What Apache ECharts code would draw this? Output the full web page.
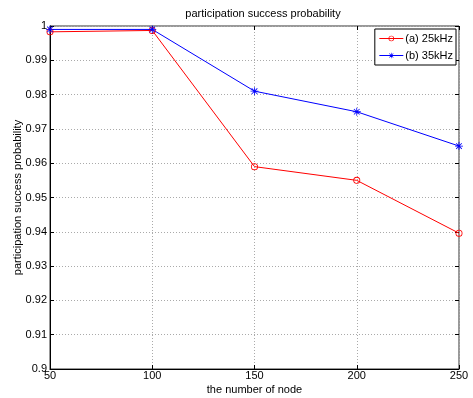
<!DOCTYPE html>
<html>
<head>
<meta charset="utf-8">
<script src="https://cdn.jsdelivr.net/npm/echarts@6/dist/echarts.min.js"></script>
<style>
  html, body { margin: 0; padding: 0; background: #fff; }
  #chart { width: 473px; height: 398px; }
</style>
</head>
<body>
<div id="chart"></div>
<script>
// data
const nodes = [50, 100, 150, 200, 250];
const khz25 = [0.9983, 0.9987, 0.959, 0.955, 0.9396];
const khz35 = [0.999, 0.999, 0.981, 0.975, 0.965];
const seriesNames = ['(a) 25kHz', '(b) 35kHz'];

const FONT = 'Liberation Sans, Arial, sans-serif';
// matlab-like markers: thin ring and asterisk
const ring = 'path://M0,-1A1,1 0 1,1 0,1A1,1 0 1,1 0,-1Z M0,-0.76A0.76,0.76 0 1,0 0,0.76A0.76,0.76 0 1,0 0,-0.76Z';
const star = 'path://M-0.1,-1L0.1,-1L0.1,1L-0.1,1Z M-1,-0.1L1,-0.1L1,0.1L-1,0.1Z ' +
  'M-0.778,-0.636L-0.636,-0.778L0.778,0.636L0.636,0.778Z M0.636,-0.778L0.778,-0.636L-0.636,0.778L-0.778,0.636Z';

const chart = echarts.init(document.getElementById('chart'));

function pairs(vals) {
  return nodes.map((n, i) => [n, vals[i]]);
}

const tickStyle = { show: true, inside: true, length: 4, lineStyle: { color: '#000' } };

chart.setOption({
  animation: false,
  backgroundColor: '#fff',
  textStyle: { fontFamily: FONT },
  title: {
    text: 'participation success probability',
    left: 258,
    top: 3,
    textAlign: 'center',
    textStyle: { fontSize: 11, fontWeight: 'normal', color: '#000', fontFamily: FONT }
  },
  legend: {
    right: 17,
    top: 29,
    orient: 'vertical',
    backgroundColor: '#fff',
    borderColor: '#000',
    borderWidth: 1,
    padding: [4, 3, 4, 4],
    itemGap: 6,
    itemWidth: 24,
    itemHeight: 7,
    lineStyle: { width: 1 },
    textStyle: { fontSize: 11, color: '#000', fontFamily: FONT, padding: [0, 0, 0, -3] },
    data: seriesNames
  },
  grid: {
    left: 50, right: 14, top: 26, bottom: 29,
    outerBoundsMode: 'none',
    show: true, borderColor: '#333', borderWidth: 1
  },
  xAxis: [{
    type: 'value', min: 50, max: 250, interval: 50,
    name: 'the number of node', nameLocation: 'middle', nameGap: 15,
    nameMoveOverlap: false,
    nameTextStyle: { fontSize: 11, color: '#000' },
    axisLine: { lineStyle: { color: '#000' } },
    axisTick: tickStyle,
    axisLabel: { fontSize: 11, color: '#000', margin: 1 },
    splitLine: { show: true, lineStyle: { color: '#aaa', type: [1, 2] } }
  }, {
    type: 'value', min: 50, max: 250, interval: 50, position: 'top',
    axisLine: { show: false }, axisTick: tickStyle,
    axisLabel: { show: false }, splitLine: { show: false }
  }],
  yAxis: [{
    type: 'value', min: 0.9, max: 1, interval: 0.01,
    name: 'participation success probability', nameLocation: 'middle', nameGap: 27,
    nameMoveOverlap: false,
    nameTextStyle: { fontSize: 11, color: '#000' },
    axisLine: { show: true, lineStyle: { color: '#000' } },
    axisTick: tickStyle,
    axisLabel: { fontSize: 11, color: '#000', margin: 3,
      formatter: v => String(+v.toFixed(2)) },
    splitLine: { show: true, lineStyle: { color: '#aaa', type: [1, 2] } }
  }, {
    type: 'value', min: 0.9, max: 1, interval: 0.01, position: 'right',
    axisLine: { show: false }, axisTick: tickStyle,
    axisLabel: { show: false }, splitLine: { show: false }
  }],
  series: [{
    name: seriesNames[0],
    type: 'line',
    data: pairs(khz25),
    symbol: ring,
    symbolSize: 7,
    showAllSymbol: true,
    color: '#ff0000',
    lineStyle: { width: 1, color: '#ff0000' },
    itemStyle: { color: '#ff0000', borderWidth: 0 }
  }, {
    name: seriesNames[1],
    type: 'line',
    data: pairs(khz35),
    symbol: star,
    symbolSize: 8,
    showAllSymbol: true,
    color: '#0000ff',
    lineStyle: { width: 1, color: '#0000ff' },
    itemStyle: { color: '#0000ff', borderWidth: 0 }
  }]
});
</script>
</body>
</html>
